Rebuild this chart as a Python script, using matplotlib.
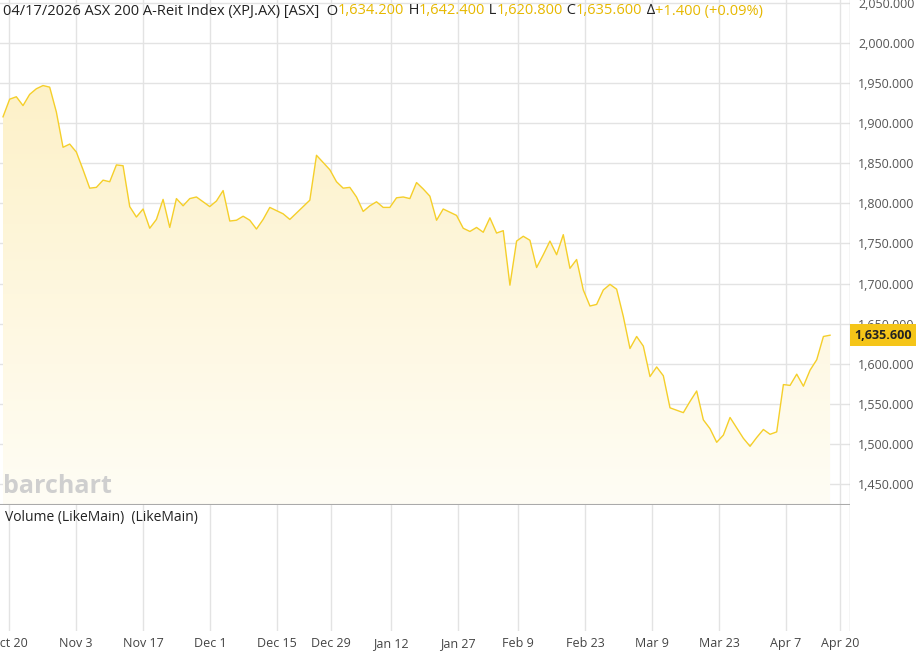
import numpy as np
import matplotlib
matplotlib.use('Agg')
import matplotlib.pyplot as plt
from matplotlib.patches import Polygon

plt.rcParams['font.family'] = ['Open Sans', 'DejaVu Sans']

# closing prices (daily, Oct 17 -> Apr 17)
close = [1908, 1930, 1933, 1922, 1936, 1943, 1947, 1945, 1914, 1870, 1874, 1864, 1842, 1819, 1820,
         1829, 1827, 1848, 1847, 1796, 1783, 1793, 1769, 1780, 1805, 1770, 1806, 1797, 1806, 1808,
         1802, 1796, 1803, 1816, 1778, 1779, 1784, 1779, 1768, 1780, 1795, 1791, 1787, 1780, 1788,
         1796, 1804, 1860, 1851, 1842, 1827, 1819, 1820, 1808, 1790, 1797, 1802, 1795, 1795, 1807,
         1808, 1806, 1826, 1818, 1809, 1779, 1793, 1789, 1785, 1769, 1765, 1770, 1764, 1782, 1763,
         1766, 1698, 1753, 1759, 1754, 1720, 1736, 1753, 1736, 1761, 1719, 1730, 1692, 1672, 1674,
         1692, 1699, 1693, 1659, 1619, 1634, 1622, 1584, 1596, 1585, 1545, 1542, 1539, 1553, 1566,
         1530, 1519, 1502, 1511, 1533, 1520, 1507, 1497, 1508, 1518, 1512, 1515, 1574, 1573, 1587,
         1572, 1592, 1605, 1634, 1635.6]
tick_labels = ['Oct 20', 'Nov 3', 'Nov 17', 'Dec 1', 'Dec 15', 'Dec 29', 'Jan 12', 'Jan 27',
               'Feb 9', 'Feb 23', 'Mar 9', 'Mar 23', 'Apr 7', 'Apr 20']
tick_px = [9, 76, 143, 210, 277, 331, 391, 458, 518, 585, 652, 719, 786, 840]
price_ticks = np.arange(1450, 2051, 50)

line_c = '#f5cf2a'
grid_c = '#e3e3e3'
gold = '#e6b800'

x = np.arange(len(close))
step = 6.67
xmin, xmax = -3 / step, (850 - 3) / step
tick_pos = [(p - 3) / step for p in tick_px]

fig = plt.figure(figsize=(9.22, 6.61), dpi=100)
ax = fig.add_axes([0, 0.236, 850 / 922, 0.764])
vax = fig.add_axes([0, 0.045, 850 / 922, 0.191])

ymin, ymax = 1423.8, 2053.7
ax.set_xlim(xmin, xmax)
ax.set_ylim(ymin, ymax)

# gradient fill under the line
grad = np.linspace(0, 1, 256).reshape(-1, 1)
cmap = matplotlib.colors.LinearSegmentedColormap.from_list('g', ['#fffdf5', '#fdf1c8'])
im = ax.imshow(grad, extent=[xmin, xmax, ymin, 1950], origin='lower', aspect='auto',
               cmap=cmap, zorder=1)
poly = Polygon(np.column_stack([np.r_[x[0], x, x[-1]], np.r_[ymin, close, ymin]]),
               closed=True, facecolor='none', edgecolor='none')
ax.add_patch(poly)
im.set_clip_path(poly)
ax.plot(x, close, color=line_c, lw=1.0, zorder=3)

for a in (ax, vax):
    a.set_xlim(xmin, xmax)
    for t in tick_pos:
        a.axvline(t, color=grid_c, lw=1, zorder=0)
    for s in a.spines.values():
        s.set_visible(False)
    a.tick_params(length=0)
for p in price_ticks:
    ax.axhline(p, color=grid_c, lw=1, zorder=0)
ax.axvline(xmax, color='#cccccc', lw=1)
vax.axvline(xmax, color='#cccccc', lw=1)
ax.axhline(ymin, color='#aaaaaa', lw=1.5)

ax.set_xticks([])
ax.yaxis.tick_right()
ax.set_yticks(price_ticks)
ax.set_yticklabels([f'{p:,.3f}' for p in price_ticks], fontsize=9, color='#555555')
ax.tick_params(axis='y', pad=6)

vax.set_ylim(0, 1)
vax.set_yticks([])
vax.set_xticks(tick_pos)
vax.set_xticklabels(tick_labels, fontsize=9, color='#444444')
vax.tick_params(axis='x', pad=4)
vax.text(0.006, 0.9, 'Volume (LikeMain)  (LikeMain)', transform=vax.transAxes,
         fontsize=10, color='#222222', va='center')

# last price tag
ax.annotate(f'{close[-1]:,.3f}', xy=(1.0, close[-1]), xycoords=('axes fraction', 'data'),
            xytext=(3, 0), textcoords='offset points', va='center', ha='left',
            fontsize=9, fontweight='bold', color='#222222', annotation_clip=False, zorder=5,
            bbox=dict(boxstyle='square,pad=0.35', fc='#f5c518', ec='none'))

# header
parts = [('04/17/2026 ASX 200 A-Reit Index (XPJ.AX) [ASX]  O', '#222222'), ('1,634.200', gold),
         (' H', '#222222'), ('1,642.400', gold), (' L', '#222222'), ('1,620.800', gold),
         (' C', '#222222'), ('1,635.600', gold), (' Δ', '#222222'), ('+1.400 (+0.09%)', gold)]
fig.canvas.draw()
xpos = 3 / 922
r = fig.canvas.get_renderer()
for txt, c in parts:
    t = fig.text(xpos, 1 - 11 / 661, txt, fontsize=10.5, color=c, va='center')
    bb = t.get_window_extent(renderer=r)
    xpos += bb.width / 922

ax.text(0.004, 0.012, 'barchart', transform=ax.transAxes, fontsize=18, fontweight='bold',
        color='#cfcfcf', va='bottom')

fig.savefig('out.png', dpi=100, facecolor='white')
